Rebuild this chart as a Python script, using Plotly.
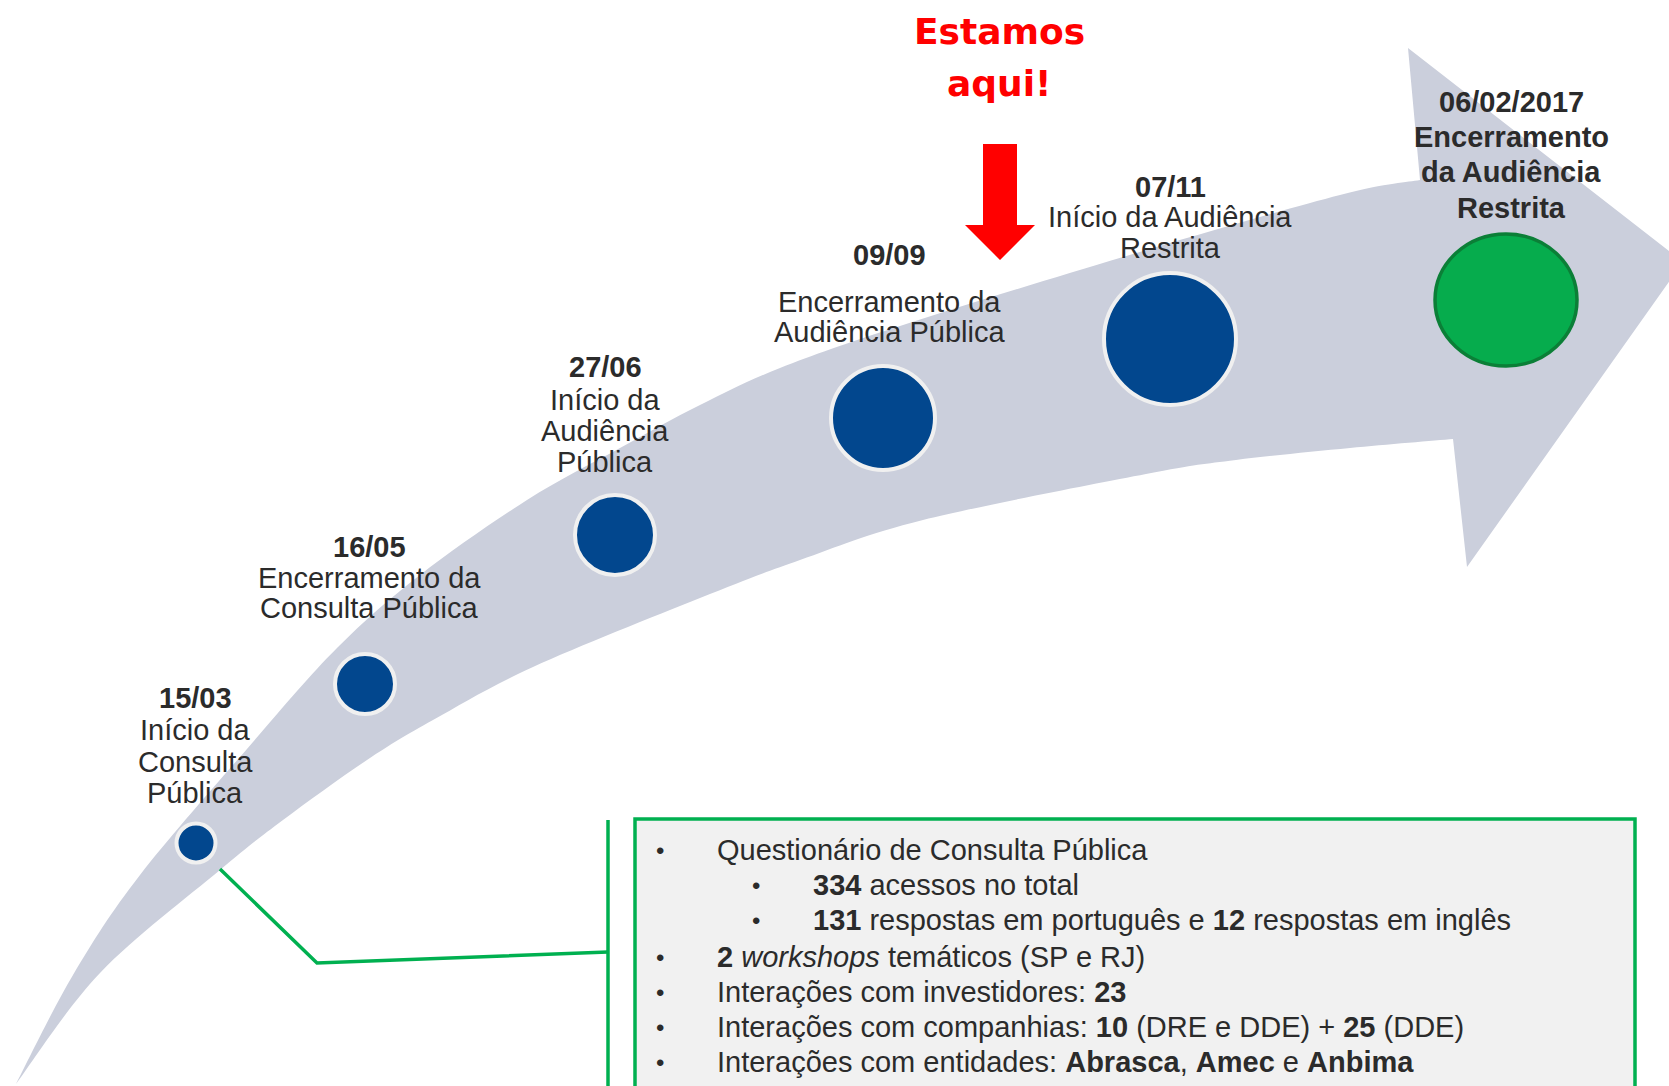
import plotly.graph_objects as go

W, H = 1669, 1086

# ---------------- data ----------------
dates = ["15/03", "16/05", "27/06", "09/09", "07/11", "06/02/2017"]
descriptions = [
    ["Início da", "Consulta", "Pública"],
    ["Encerramento da", "Consulta Pública"],
    ["Início da", "Audiência", "Pública"],
    ["Encerramento da", "Audiência Pública"],
    ["Início da Audiência", "Restrita"],
    ["Encerramento", "da Audiência", "Restrita"],
]
here_text = ["Estamos", "aqui!"]
bullet_items = [
    "Questionário de Consulta Pública",
    "<b>334</b> acessos no total",
    "<b>131</b> respostas em português e <b>12</b> respostas em inglês",
    "<b>2</b> <i>workshops</i> temáticos (SP e RJ)",
    "Interações com investidores: <b>23</b>",
    "Interações com companhias: <b>10</b> (DRE e DDE) + <b>25</b> (DDE)",
    "Interações com entidades: <b>Abrasca</b>, <b>Amec</b> e <b>Anbima</b>",
]
bullet_level = [0, 1, 1, 0, 0, 0, 0]

# ---------------- layout constants (pixels) ----------------
node_x = [196, 365, 615, 883, 1170, 1506]
node_y = [843, 684, 535, 418, 339, 300]
node_r = [17.5, 28, 38, 50, 64]
ring_w = 4
green_rx, green_ry = 71, 66
label_x = [195, 369, 605, 889, 1170, 1511]
label_y = [[698, 730, 762, 793], [547, 578, 608], [367, 400, 431, 462],
           [255, 302, 332], [187, 217, 248], [102, 137, 172, 208]]
bullet_y = [850, 885, 920, 957, 992, 1027, 1062]

upper_edge = [(16, 1084), (73, 975), (140, 875), (253, 742), (337, 648), (420, 575),
              (527, 500), (620, 448), (700, 405), (780, 368), (900, 326), (1123, 257),
              (1340, 195), (1420, 180)]
lower_edge = [(16, 1084), (100, 973), (220, 870), (283, 820), (367, 760), (433, 720),
              (533, 667), (700, 598), (800, 560), (923, 520), (1146, 474), (1236, 460),
              (1350, 448), (1453, 439)]
head = [(1408, 48), (1683, 262), (1467, 567)]

BAND = "#CBCFDC"
BLUE = "#02478E"
RING = "#F0F0F0"
GREEN = "#00B050"
TXT = "#2B2B2B"
FONT = "Liberation Sans, Arial, sans-serif"


def spline(pts):
    s = ""
    n = len(pts)
    for i in range(n - 1):
        p0 = pts[i - 1] if i > 0 else pts[i]
        p1 = pts[i]
        p2 = pts[i + 1]
        p3 = pts[i + 2] if i + 2 < n else pts[i + 1]
        c1 = (p1[0] + (p2[0] - p0[0]) / 6, p1[1] + (p2[1] - p0[1]) / 6)
        c2 = (p2[0] - (p3[0] - p1[0]) / 6, p2[1] - (p3[1] - p1[1]) / 6)
        s += f" C {c1[0]:.1f},{c1[1]:.1f} {c2[0]:.1f},{c2[1]:.1f} {p2[0]:.1f},{p2[1]:.1f}"
    return s


path = f"M {upper_edge[0][0]},{upper_edge[0][1]}" + spline(upper_edge)
for hx, hy in head:
    path += f" L {hx},{hy}"
rev = lower_edge[::-1]
path += f" L {rev[0][0]},{rev[0][1]}" + spline(rev) + " Z"

shapes = [
    dict(type="path", path=path, fillcolor=BAND, line=dict(width=0), layer="below"),
    # green connector
    dict(type="path", path="M 220,869 L 317,963 L 608,952", line=dict(color=GREEN, width=3.5),
         layer="below"),
    dict(type="line", x0=608, x1=608, y0=820, y1=1100, line=dict(color=GREEN, width=3.5),
         layer="below"),
    # info box
    dict(type="rect", x0=635, x1=1635, y0=819, y1=1110, fillcolor="#F1F1F1",
         line=dict(color=GREEN, width=3.5), layer="below"),
    # green final node
    dict(type="circle", x0=node_x[5] - green_rx, x1=node_x[5] + green_rx,
         y0=node_y[5] - green_ry, y1=node_y[5] + green_ry,
         fillcolor="#06AC4D", line=dict(color="#0B7F37", width=3.5), layer="above"),
    # red arrow
    dict(type="path", path="M 983,144 L 1017,144 L 1017,225 L 1035,225 L 1000,260 L 965,225 L 983,225 Z",
         fillcolor="#FF0000", line=dict(width=0), layer="above"),
]

fig = go.Figure()
fig.add_trace(go.Scatter(
    x=node_x[:5], y=node_y[:5], mode="markers", hoverinfo="skip",
    marker=dict(size=[2 * r + ring_w for r in node_r], color=BLUE, opacity=1,
                line=dict(color=RING, width=ring_w)),
    showlegend=False,
))

annotations = []
for i, d in enumerate(dates):
    lines = ["<b>" + d + "</b>"] + [
        ("<b>" + t + "</b>") if i == 5 else t for t in descriptions[i]]
    for ln, yy in zip(lines, label_y[i]):
        annotations.append(dict(x=label_x[i], y=yy, text=ln, showarrow=False,
                                xanchor="center", yanchor="middle",
                                font=dict(family=FONT, size=29, color=TXT)))

for t, yy in zip(here_text, [31, 83]):
    annotations.append(dict(x=999, y=yy, text="<b>" + t + "</b>", showarrow=False,
                            xanchor="center", yanchor="middle",
                            font=dict(family="Comic Sans MS, DejaVu Sans, sans-serif",
                                      size=36, color="#FF0000")))

for t, lvl, yy in zip(bullet_items, bullet_level, bullet_y):
    bx = 660 if lvl == 0 else 756
    tx = 715 if lvl == 0 else 811
    annotations.append(dict(x=bx, y=yy, text="•", showarrow=False, xanchor="center",
                            yanchor="middle", font=dict(family=FONT, size=24, color=TXT)))
    annotations.append(dict(x=tx, y=yy, text=t, showarrow=False, xanchor="left",
                            yanchor="middle", font=dict(family=FONT, size=29, color=TXT)))

fig.update_layout(
    width=W, height=H, margin=dict(l=0, r=0, t=0, b=0),
    paper_bgcolor="white", plot_bgcolor="white",
    xaxis=dict(range=[0, W], visible=False, fixedrange=True),
    yaxis=dict(range=[H, 0], visible=False, fixedrange=True),
    shapes=shapes, annotations=annotations, showlegend=False,
)
fig.write_html(
    "out.html",
    config={"displayModeBar": False},
    post_script="document.body.style.margin='0';document.body.style.overflow='hidden';",
)
